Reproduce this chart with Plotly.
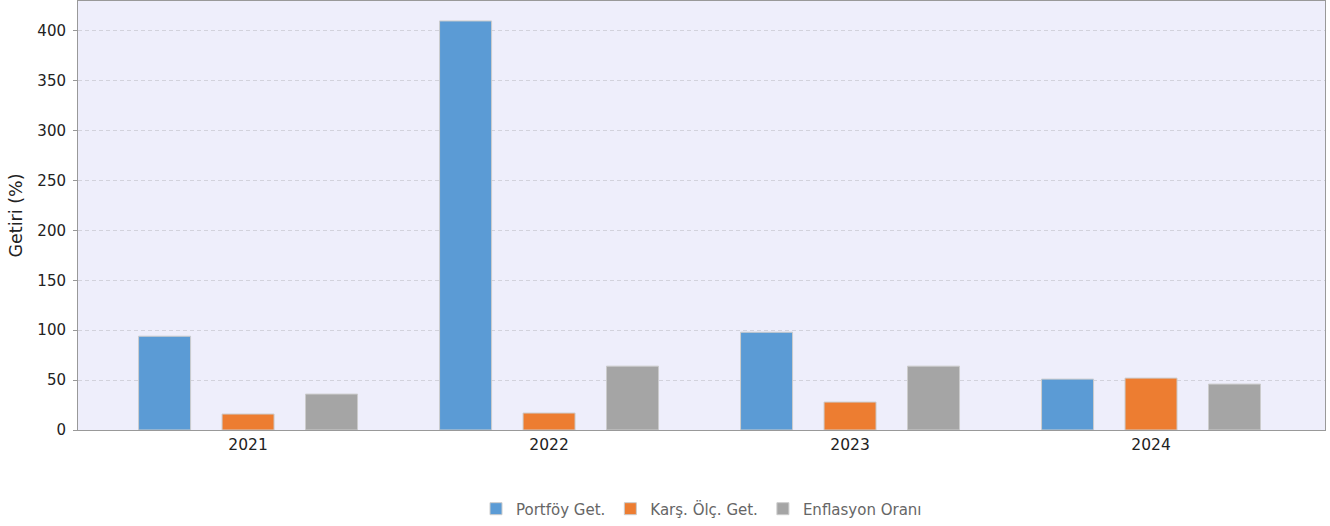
import plotly.graph_objects as go

years = ["2021", "2022", "2023", "2024"]
portfoy = [94, 410, 98, 51]
karsilastirma = [16, 17, 28, 52]
enflasyon = [36, 64, 64, 46]

series = [
    ("Portföy Get.", portfoy, "#5b9bd5"),
    ("Karş. Ölç. Get.", karsilastirma, "#ed7d31"),
    ("Enflasyon Oranı", enflasyon, "#a5a5a5"),
]

fig = go.Figure()
for name, vals, color in series:
    fig.add_trace(go.Bar(
        x=years, y=vals, name=name,
        marker=dict(color=color, line=dict(color="#cccccc", width=1)),
    ))

fig.update_layout(
    width=1330, height=526,
    barmode="group", bargap=0.168, bargroupgap=0.377,
    paper_bgcolor="white", plot_bgcolor="#eeeefb",
    margin=dict(l=78, r=5, t=1, b=96),
    font=dict(family="DejaVu Sans, sans-serif", size=15, color="#222"),
    showlegend=True,
    legend=dict(orientation="h", x=0.5, xanchor="center", y=-0.184, yanchor="middle",
                font=dict(family="DejaVu Sans, sans-serif", size=15, color="#666"),
                itemwidth=30, traceorder="normal"),
    xaxis=dict(type="category", range=[-0.565, 3.578], showline=True, linecolor="#999",
               linewidth=1, mirror=True, ticks="", showgrid=False,
               tickfont=dict(size=15.5, color="#222")),
    yaxis=dict(range=[0, 430], tickvals=[0, 50, 100, 150, 200, 250, 300, 350, 400],
               showline=True, linecolor="#999", linewidth=1, mirror=True,
               ticks="outside", ticklen=4, tickcolor="#999", ticklabelstandoff=4,
               gridcolor="#d2d2dc", griddash="4px,3px", gridwidth=1,
               zeroline=False,
               title=dict(text="Getiri (%)", font=dict(size=17.5, color="#222"), standoff=10),
               tickfont=dict(size=15, color="#222")),
)

fig.write_html("out.html", config={"displayModeBar": False},
               post_script="document.body.style.margin='0';")
